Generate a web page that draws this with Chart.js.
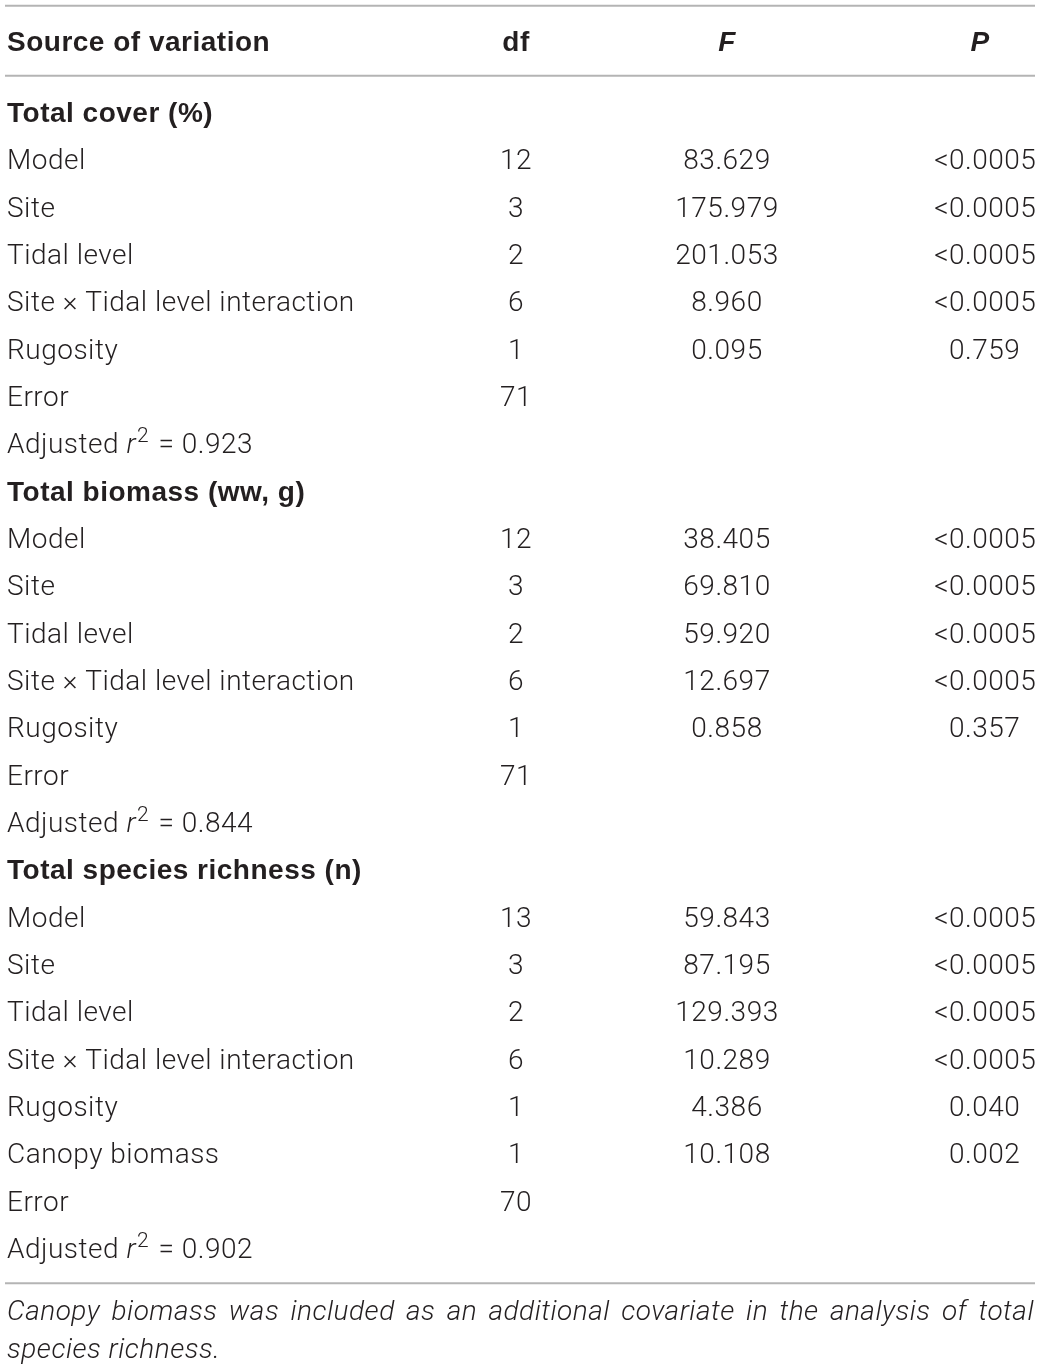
<!DOCTYPE html>
<html>
<head>
<meta charset="utf-8">
<script src="https://cdn.jsdelivr.net/npm/chart.js@4.4.0/dist/chart.umd.min.js"></script>
<style>
  html, body { margin: 0; background: #fff; }
</style>
</head>
<body>
<canvas id="anovaTable" width="1040" height="1370"></canvas>
<script>
// table content
const headers = ['Source of variation', 'df', 'F', 'P'];
const rowLabels = [
  'Total cover (%)', 'Model', 'Site', 'Tidal level', 'Site \u00d7 Tidal level interaction', 'Rugosity', 'Error', 'Adjusted r2 = 0.923',
  'Total biomass (ww, g)', 'Model', 'Site', 'Tidal level', 'Site \u00d7 Tidal level interaction', 'Rugosity', 'Error', 'Adjusted r2 = 0.844',
  'Total species richness (n)', 'Model', 'Site', 'Tidal level', 'Site \u00d7 Tidal level interaction', 'Rugosity', 'Canopy biomass', 'Error', 'Adjusted r2 = 0.902'
];
const groupRows = [0, 8, 16];
const dfValues = [
  '', '12', '3', '2', '6', '1', '71', '',
  '', '12', '3', '2', '6', '1', '71', '',
  '', '13', '3', '2', '6', '1', '1', '70', ''
];
const fValues = [
  '', '83.629', '175.979', '201.053', '8.960', '0.095', '', '',
  '', '38.405', '69.810', '59.920', '12.697', '0.858', '', '',
  '', '59.843', '87.195', '129.393', '10.289', '4.386', '10.108', '', ''
];
const pValues = [
  '', '<0.0005', '<0.0005', '<0.0005', '<0.0005', '0.759', '', '',
  '', '<0.0005', '<0.0005', '<0.0005', '<0.0005', '0.357', '', '',
  '', '<0.0005', '<0.0005', '<0.0005', '<0.0005', '0.040', '0.002', '', ''
];
const footnoteLines = [
  'Canopy biomass was included as an additional covariate in the analysis of total',
  'species richness.'
];

const ink = '#231f20';
const ruleColor = '#b4b4b4';
const lightFont = '300 28px Roboto, "Liberation Sans", sans-serif';
const boldFont = 'bold 28px "Liberation Sans", Arial, sans-serif';
const italicFont = 'italic 300 28px Roboto, "Liberation Sans", sans-serif';
const spacing = '0.5px';

function drawRich(ctx, y, x, text) {
  // "Adjusted r2 = 0.923" -> italic r with superscript 2
  const m = text.match(/^(.*) r2 (.*)$/);
  if (!m) { ctx.fillText(text, x, y); return; }
  ctx.font = lightFont;
  ctx.fillText(m[1] + ' ', x, y);
  x += ctx.measureText(m[1] + ' ').width;
  ctx.font = italicFont;
  ctx.fillText('r', x, y);
  x += ctx.measureText('r').width + 1;
  ctx.font = '300 21px Roboto, sans-serif';
  ctx.fillText('2', x, y - 11);
  x += ctx.measureText('2').width + 2;
  ctx.font = lightFont;
  ctx.fillText(' ' + m[2], x, y);
}

function drawDecimal(ctx, y, x, text) {
  const i = text.indexOf('.');
  ctx.textAlign = 'right';
  ctx.fillText(text.slice(0, i), x, y);
  ctx.textAlign = 'left';
  ctx.fillText(text.slice(i), x, y);
}

function drawJustified(ctx, y, left, right, text) {
  const words = text.split(' ');
  const natural = ctx.measureText(text).width;
  const target = right - left;
  ctx.textAlign = 'left';
  if (natural >= target) {
    ctx.save();
    ctx.translate(left, y);
    ctx.scale(target / natural, 1);
    ctx.fillText(text, 0, 0);
    ctx.restore();
    return;
  }
  const wordsW = words.reduce((s, w) => s + ctx.measureText(w).width, 0);
  const gap = (target - wordsW) / (words.length - 1);
  let x = left;
  words.forEach(w => {
    ctx.fillText(w, x, y);
    x += ctx.measureText(w).width + gap;
  });
}

const tablePlugin = {
  id: 'tablePlugin',
  afterDraw(chart) {
    const { ctx, chartArea } = chart;
    const xs = chart.scales.x;
    const ys = chart.scales.y;
    const colLeft = xs.getPixelForValue(7);
    const colDf = xs.getPixelForValue(516);
    const colF = xs.getPixelForValue(727);
    const colP = xs.getPixelForValue(965);
    const band = ys.getPixelForValue(1) - ys.getPixelForValue(0);
    const base = 10; // baseline below row centre

    ctx.save();
    ctx.fillStyle = ink;
    ctx.textBaseline = 'alphabetic';
    ctx.letterSpacing = spacing;

    // rules
    ctx.strokeStyle = ruleColor;
    ctx.lineWidth = 2;
    const rules = [chartArea.top - 1.75 * band, chartArea.top - 0.27 * band, chartArea.bottom + 0.25 * band];
    rules.forEach(ry => {
      ctx.beginPath();
      ctx.moveTo(xs.getPixelForValue(5), ry);
      ctx.lineTo(xs.getPixelForValue(1035), ry);
      ctx.stroke();
    });

    // header
    const hy = chartArea.top - band - 0.5 + base;
    ctx.font = boldFont;
    ctx.textAlign = 'left';
    ctx.fillText(headers[0], colLeft, hy);
    ctx.textAlign = 'center';
    ctx.fillText(headers[1], colDf, hy);
    ctx.font = 'italic bold 28px "Liberation Sans", Arial, sans-serif';
    ctx.fillText(headers[2], colF, hy);
    ctx.fillText(headers[3], xs.getPixelForValue(980), hy);

    // body rows
    rowLabels.forEach((label, i) => {
      const y = ys.getPixelForValue(i) + base;
      ctx.textAlign = 'left';
      if (groupRows.includes(i)) {
        ctx.font = boldFont;
        ctx.fillText(label, colLeft, y);
        return;
      }
      ctx.font = lightFont;
      drawRich(ctx, y, colLeft, label);
      ctx.font = lightFont;
      ctx.textAlign = 'center';
      if (dfValues[i]) ctx.fillText(dfValues[i], colDf, y);
      if (fValues[i]) ctx.fillText(fValues[i], colF, y);
      if (pValues[i]) drawDecimal(ctx, y, colP, pValues[i]);
    });

    // footnote
    ctx.font = italicFont;
    const fy = chartArea.bottom + 0.25 * band;
    drawJustified(ctx, fy + 37, colLeft, xs.getPixelForValue(1034), footnoteLines[0]);
    ctx.textAlign = 'left';
    ctx.fillText(footnoteLines[1], colLeft, fy + 75);
    ctx.restore();
  }
};

new Chart(document.getElementById('anovaTable'), {
  type: 'scatter',
  data: { labels: rowLabels, datasets: [] },
  options: {
    responsive: false,
    animation: false,
    devicePixelRatio: 1,
    layout: { padding: { top: 88.5, bottom: 98.5, left: 0, right: 0 } },
    scales: {
      x: { type: 'linear', min: 0, max: 1040, display: false },
      y: { type: 'category', labels: rowLabels, offset: true, display: false }
    },
    plugins: { legend: { display: false }, tooltip: { enabled: false } }
  },
  plugins: [tablePlugin]
});
</script>
</body>
</html>
